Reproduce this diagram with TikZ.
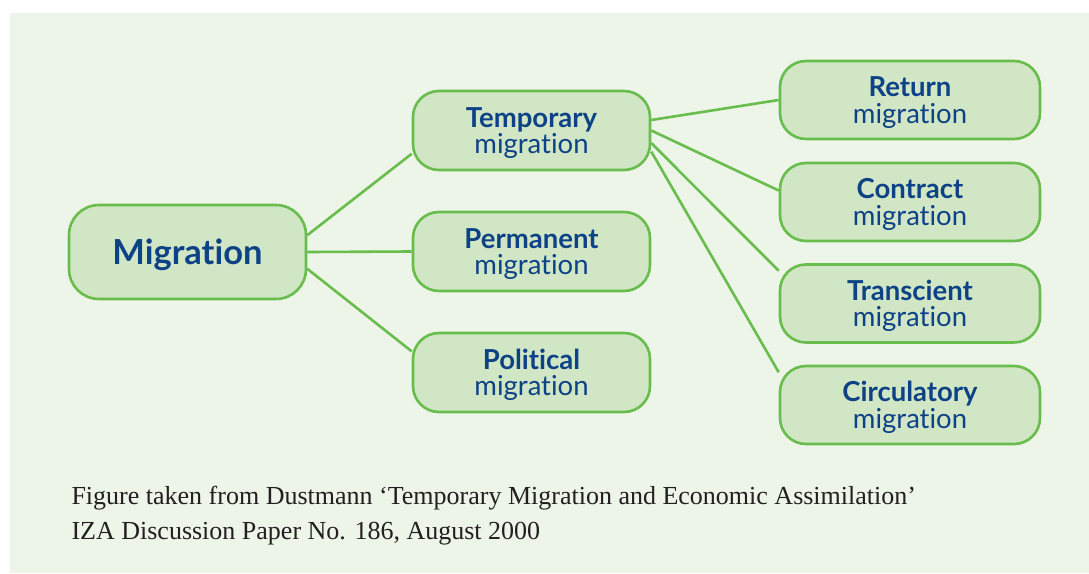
\documentclass[tikz,border=0pt]{standalone}
\usepackage{fontspec}
\setmainfont{Liberation Serif}
\newfontfamily\boxfont[Ligatures={NoCommon}]{Lato}
\definecolor{bgcol}{RGB}{237,245,232}
\definecolor{boxfill}{RGB}{209,230,196}
\definecolor{boxline}{RGB}{104,189,77}
\definecolor{boxtext}{RGB}{14,66,134}
\definecolor{capgray}{RGB}{35,31,32}

\begin{document}
\begin{tikzpicture}[x=1pt,y=-1pt,
  box/.style={draw=boxline, line width=2.6pt, fill=boxfill, rounded corners=26pt,
    minimum width=237pt, minimum height=79pt, inner sep=0pt, align=center, text depth=0pt,
    text=boxtext, font=\boxfont\fontsize{27.5}{26.5}\selectfont},
  wide/.style={box, minimum width=260pt, minimum height=78pt},
  link/.style={draw=boxline, line width=2.6pt}]
% canvas 1089 x 573 px
\useasboundingbox (0,0) rectangle (1089,573);
\fill[bgcol] (10,13) rectangle (1089,573);

\node[box, minimum height=94pt, rounded corners=30pt, font=\boxfont\bfseries\fontsize{34.5}{34}\selectfont] (mig) at (187.5,252) {Migration};

\node[box] (temp) at (531.5,130.5) {{\bfseries Temporary}\\migration};
\node[box] (perm) at (531.5,251.5) {{\bfseries Permanent}\\migration};
\node[box] (pol) at (531.5,372.5) {{\bfseries Political}\\migration};

\node[wide] (ret) at (910,100) {{\bfseries Return}\\migration};
\node[wide] (con) at (910,202) {{\bfseries Contract}\\migration};
\node[wide] (tra) at (910,303.5) {{\bfseries Transcient}\\migration};
\node[wide] (circ) at (910,405) {{\bfseries Circulatory}\\migration};

\draw[link] (mig.8) -- (temp.191);
\draw[link] (mig.east) -- (perm.west);
\draw[link] (mig.-8) -- (pol.170);

\draw[link] (temp.5.5) -- (ret.180);
\draw[link] (temp.0) -- (con.175);
\draw[link] (temp.-6) -- (tra.166.5);
\draw[link] (temp.-10) -- (circ.166);

\node[anchor=base west, text=capgray, font=\fontsize{26}{26}\selectfont] (cap1) at (68,504)
  {Figure taken from Dustmann ‘Temporary Migration and Economic Assimilation’};
\node[anchor=base west, text=capgray, font=\fontsize{26}{26}\selectfont] (cap2) at (68,539)
  {IZA Discussion Paper No. 186, August 2000};
\end{tikzpicture}
\end{document}
